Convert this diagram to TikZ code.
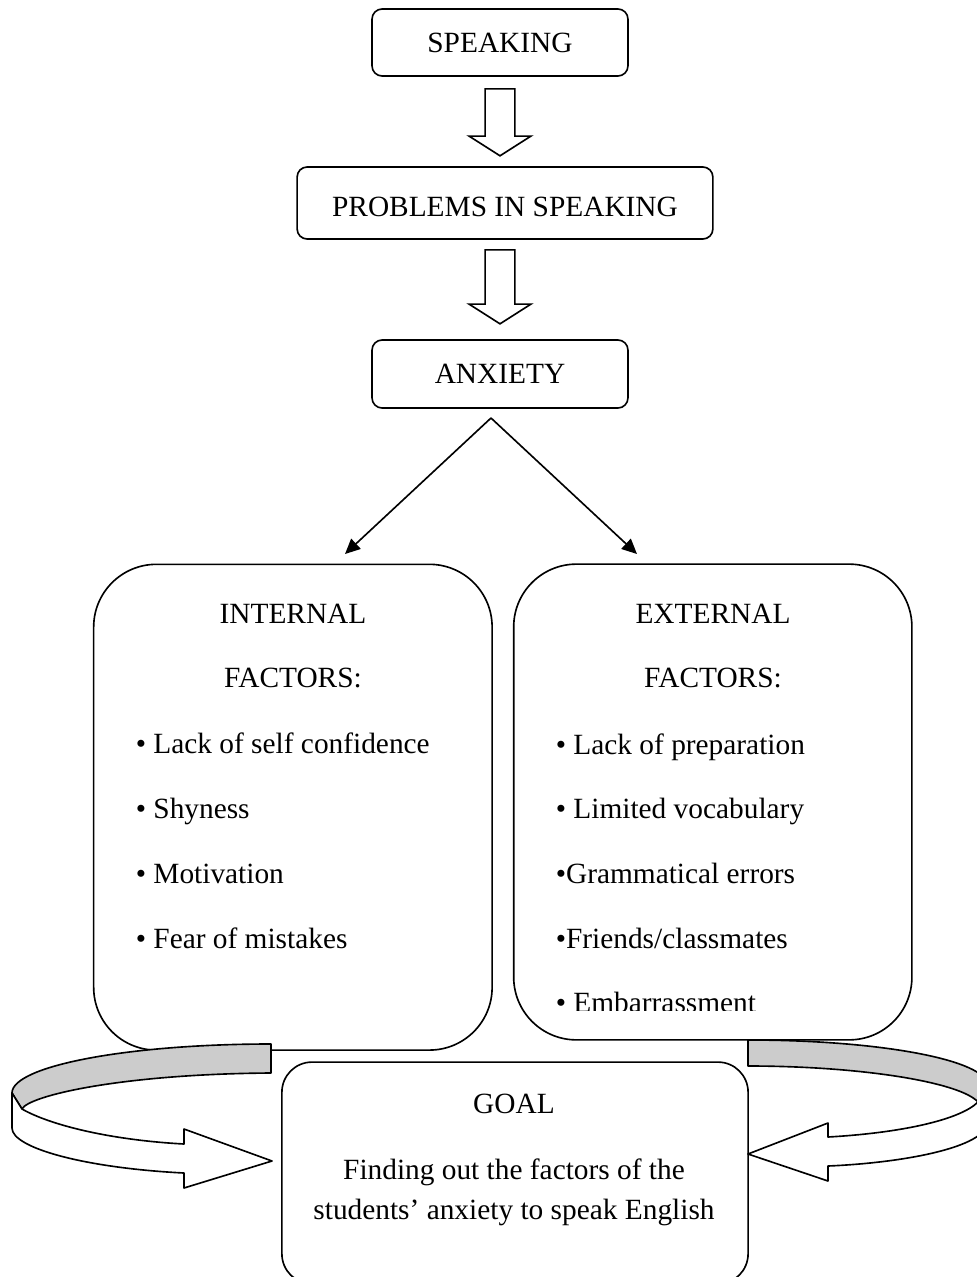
\documentclass[tikz,border=0pt]{standalone}
\usepackage{fontspec}
\setmainfont{Liberation Serif}
\usetikzlibrary{shapes.arrows, arrows.meta}
\definecolor{bandgray}{RGB}{204,204,204}

\begin{document}
\begin{tikzpicture}[x=0.014cm, y=-0.014cm, line width=0.65pt,
    every node/.style={font=\fontsize{11.7pt}{14pt}\selectfont},
    box/.style={draw, rounded corners=4pt, inner sep=0pt, text height=7.8pt, text depth=0pt},
    bigbox/.style={draw, rounded corners=25pt, inner sep=0pt},
    titletext/.style={align=center, inner sep=0pt, font=\fontsize{11.7pt}{25.6pt}\selectfont},
    listtext/.style={align=left, inner sep=0pt, font=\fontsize{11.7pt}{25.8pt}\selectfont},
    blockarrow/.style={draw, single arrow, shape border rotate=270, single arrow head extend=6.4pt,
        single arrow tip angle=115, inner sep=5.6pt, anchor=tail},
    thinarrow/.style={-{Triangle[length=6pt,width=5.5pt]}},
    bandtop/.style={draw, fill=bandgray, line join=round},
    bandlow/.style={draw, fill=white, line join=round}]

    \useasboundingbox (0,0) rectangle (977,1277);

    % Define the top chain (boxes and block arrows)
    \node[box, minimum width=102pt, minimum height=26.7pt] (spk) at (500,42.5) {SPEAKING};
    \node[blockarrow, minimum height=26.7pt] (arr1) at (500,88) {};
    \node[box, minimum width=165.7pt, minimum height=28.7pt, text height=11pt] (prob) at (505,203) {PROBLEMS IN SPEAKING};
    \node[blockarrow, minimum height=29.5pt] (arr2) at (500,249) {};
    \node[box, minimum width=102pt, minimum height=27.1pt] (anx) at (500,374) {ANXIETY};

    % Split into the two factor boxes
    \coordinate (apex) at (491,418);
    \coordinate (tipL) at (345,554);
    \coordinate (tipR) at (637,554);
    \draw[thinarrow] (apex) -- (tipL);
    \draw[thinarrow] (apex) -- (tipR);

    \node[bigbox, minimum width=158.8pt, minimum height=193.6pt] (int) at (292.9,807.2) {};
    \node[bigbox, minimum width=158.7pt, minimum height=189.6pt] (ext) at (712.8,802) {};
    \node[titletext, anchor=north] (intT) at (293,603) {INTERNAL\\FACTORS:};
    \node[listtext, anchor=north west] (intL) at (135,732.5) {• Lack of self confidence\\• Shyness\\• Motivation\\• Fear of mistakes};
    \node[titletext, anchor=north] (extT) at (713,603) {EXTERNAL\\FACTORS:};
    \begin{scope}
        \clip (500,560) rectangle (925,1010); % last item is cut off
        \node[listtext, anchor=north west] (extL) at (555,732.5) {• Lack of preparation\\• Limited vocabulary\\•Grammatical errors\\•Friends/classmates\\• Embarrassment};
    \end{scope}

    % Goal box
    \node[bigbox, rounded corners=12pt, minimum width=185.8pt, minimum height=88.4pt] (goal) at (515,1173) {};
    \node[anchor=base, inner sep=0pt] (goalT) at (514,1113) {GOAL};
    \node[align=center, anchor=north, inner sep=0pt, font=\fontsize{11.7pt}{15.9pt}\selectfont] (goalD) at (514,1158)
        {Finding out the factors of the\\students’ anxiety to speak English};

    % Curved arrows into the goal (left)
    \path[bandtop] (271,1044) .. controls (128,1044) and (12,1066) .. (12,1093) -- (22,1109)
        .. controls (28,1096) and (120,1074) .. (271,1073) -- cycle;
    \path[bandlow] (12,1093) -- (12,1128) .. controls (12,1148) and (85,1168) .. (184,1173)
        -- (184,1188) -- (272,1161) -- (184,1129) -- (184,1144)
        .. controls (110,1140) and (50,1125) .. (22,1109) -- cycle;
    % (right)
    \path[bandtop] (748,1040) .. controls (880,1040) and (988,1060) .. (988,1086) -- (978,1102)
        .. controls (960,1082) and (860,1066) .. (748,1066) -- cycle;
    \path[bandlow] (988,1086) -- (988,1121) .. controls (988,1148) and (900,1163) .. (828,1166)
        -- (828,1181) -- (748,1154) -- (828,1123) -- (828,1137)
        .. controls (900,1133) and (960,1120) .. (978,1102) -- cycle;
\end{tikzpicture}
\end{document}
